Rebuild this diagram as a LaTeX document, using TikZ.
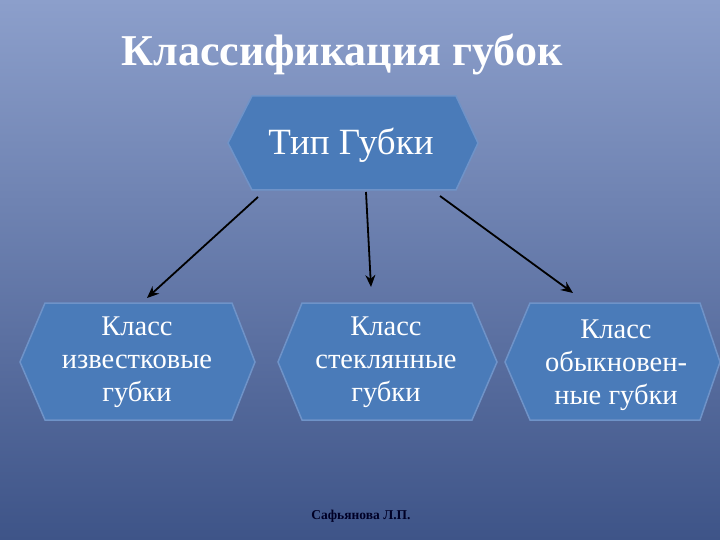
\documentclass[tikz,border=0pt]{standalone}
\usepackage{fontspec}
\setmainfont{Liberation Serif}
\usetikzlibrary{arrows.meta}
\definecolor{bgtop}{HTML}{8C9FCB}
\definecolor{bgbot}{HTML}{3E5488}
\definecolor{hexfill}{HTML}{4A7BB9}
\definecolor{hexline}{HTML}{6F93C8}
\tikzset{
  hexbox/.style={fill=hexfill,draw=hexline,line width=1.5pt},
  lbl/.style={text=white,align=center,font=\fontsize{28.5}{33}\selectfont},
  arr/.style={draw=black,line width=1.8pt,-{Stealth[length=12pt,width=10pt]}}
}
\begin{document}
\begin{tikzpicture}[x=1pt,y=-1pt]
\useasboundingbox (0,0) rectangle (720,540);
\shade[top color=bgtop,bottom color=bgbot] (0,0) rectangle (720,540);
\node (title) [text=white,font=\bfseries\fontsize{44}{48}\selectfont] at (342,55) {Классификация губок};
\draw[hexbox] (252,96)--(456,96)--(478,143)--(456,190)--(252,190)--(228,143)--cycle;
\node (top) [lbl,font=\fontsize{37}{40}\selectfont] at (351,145) {Тип Губки};
\draw[hexbox] (45,303)--(232,303)--(255,362)--(232,420)--(45,420)--(20,362)--cycle;
\node (a) [lbl] at (137,362) {Класс\\известковые\\губки};
\draw[hexbox] (302,303)--(472,303)--(497,362)--(472,420)--(302,420)--(278,362)--cycle;
\node (b) [lbl] at (386,362) {Класс\\стеклянные\\губки};
\draw[hexbox] (530,303)--(700,303)--(720,362)--(700,420)--(530,420)--(505,362)--cycle;
\node (c) [lbl] at (616,365) {Класс\\обыкновен-\\ные губки};
\coordinate (s1) at (258,197); \coordinate (e1) at (147,298);
\coordinate (s2) at (366,192); \coordinate (e2) at (371,287);
\coordinate (s3) at (440,196); \coordinate (e3) at (573,293);
\draw[arr] (s1)--(e1);
\draw[arr] (s2)--(e2);
\draw[arr] (s3)--(e3);
\node (auth) [text=black!85!blue,font=\bfseries\fontsize{13.5}{15}\selectfont] at (361,516) {Сафьянова Л.П.};
\end{tikzpicture}
\end{document}
